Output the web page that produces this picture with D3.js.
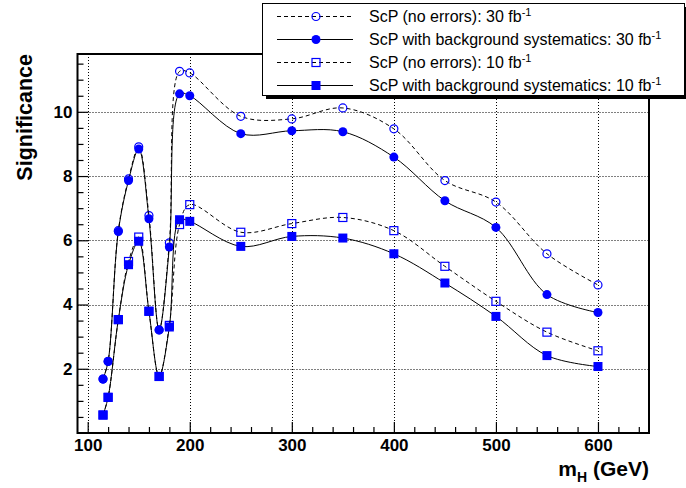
<!DOCTYPE html>
<html><head><meta charset="utf-8">
<script src="https://cdn.jsdelivr.net/npm/d3@7"></script>
<style>body{margin:0;background:#fff} svg{display:block;font-family:"Liberation Sans",Arial,Helvetica,sans-serif}</style>
</head><body><svg id="c" width="686" height="488"></svg>
<script>
// ---- data ----
const masses     = [115, 120, 130, 140, 150, 160, 170, 180, 190, 200, 250, 300, 350, 400, 450, 500, 550, 600];
const sig30NoErr = [1.68, 2.23, 6.30, 7.91, 8.91, 6.77, 3.21, 5.92, 11.26, 11.21, 9.86, 9.78, 10.12, 9.47, 7.86, 7.19, 5.58, 4.61];
const sig30Syst  = [1.68, 2.23, 6.27, 7.86, 8.84, 6.67, 3.21, 5.79, 10.56, 10.50, 9.32, 9.41, 9.38, 8.59, 7.23, 6.40, 4.31, 3.75];
const sig10NoErr = [0.56, 1.11, 3.53, 5.34, 6.10, 3.79, 1.76, 3.35, 6.49, 7.11, 6.25, 6.52, 6.71, 6.30, 5.19, 4.10, 3.14, 2.56];
const sig10Syst  = [0.56, 1.11, 3.53, 5.24, 5.97, 3.79, 1.76, 3.30, 6.64, 6.59, 5.81, 6.12, 6.07, 5.58, 4.67, 3.63, 2.41, 2.07];
const xTicks = [100, 200, 300, 400, 500, 600];
const yTicks = [2, 4, 6, 8, 10];
const legendLabels = ["ScP (no errors): 30 fb", "ScP with background systematics: 30 fb", "ScP (no errors): 10 fb", "ScP with background systematics: 10 fb"];
const legendSup = "-1";
const xTitle = "m", xTitleSub = "H", xTitleRest = " (GeV)";
const yTitle = "Significance";

// ---- layout ----
const L = 77.5, R = 649, T = 54, B = 433;
const svg = d3.select("#c");
const x = d3.scaleLinear().domain([90, 650]).range([L, R]);
const y = d3.scaleLinear().domain([0, 11.8]).range([B, T]);
const blue = "#0000ff";

svg.append("defs").append("clipPath").attr("id", "fr")
  .append("rect").attr("x", L).attr("y", T).attr("width", R - L).attr("height", B - T);

// grid
const grid = svg.append("g").attr("stroke", "#000").attr("stroke-width", 1).attr("stroke-dasharray", "1,2");
grid.selectAll("line.gx").data(xTicks).join("line")
  .attr("x1", d => Math.round(x(d)) + 0.5).attr("x2", d => Math.round(x(d)) + 0.5).attr("y1", T).attr("y2", B);
grid.selectAll("line.gy").data(yTicks).join("line").attr("class","gy")
  .attr("y1", d => Math.round(y(d)) + 0.5).attr("y2", d => Math.round(y(d)) + 0.5).attr("x1", L).attr("x2", R);

// axes
const xMinor = d3.range(100, 650, 20).filter(v => !xTicks.includes(v));
const yMinor = d3.range(0.5, 11.8, 0.5).filter(v => !yTicks.includes(v));
svg.append("g").attr("transform", `translate(0,${B})`)
  .call(d3.axisBottom(x).tickValues(xTicks).tickSize(-11).tickPadding(6).tickFormat(d3.format("d")));
svg.append("g").attr("transform", `translate(0,${B})`)
  .call(d3.axisBottom(x).tickValues(xMinor).tickSize(-6).tickFormat(""));
svg.append("g").attr("transform", `translate(${L},0)`)
  .call(d3.axisLeft(y).tickValues(yTicks).tickSize(-11).tickPadding(5).tickFormat(d3.format("d")));
svg.append("g").attr("transform", `translate(${L},0)`)
  .call(d3.axisLeft(y).tickValues(yMinor).tickSize(-6).tickFormat(""));
svg.selectAll(".domain").remove();
svg.selectAll(".tick line").attr("stroke", "#000").attr("stroke-width", 1.2);
svg.selectAll(".tick text").attr("font-family", "Liberation Sans, Arial, sans-serif")
  .attr("font-size", 17).attr("font-weight", "bold").attr("fill", "#000");

// frame
svg.append("rect").attr("x", L).attr("y", T).attr("width", R - L).attr("height", B - T)
  .attr("fill", "none").attr("stroke", "#000").attr("stroke-width", 2);

// series
const series = [
  {vals: sig30NoErr, dash: "4,3", shape: "circle", filled: false},
  {vals: sig30Syst,  dash: null,  shape: "circle", filled: true},
  {vals: sig10NoErr, dash: "4,3", shape: "square", filled: false},
  {vals: sig10Syst,  dash: null,  shape: "square", filled: true},
];
const line = d3.line().x(d => x(d[0])).y(d => y(d[1])).curve(d3.curveCatmullRom.alpha(0.5));
const plot = svg.append("g").attr("clip-path", "url(#fr)");

function drawMarker(g, shape, filled, cx, cy) {
  if (shape === "circle") {
    g.append("circle").attr("cx", cx).attr("cy", cy).attr("r", filled ? 4.5 : 4)
      .attr("fill", filled ? blue : "none").attr("stroke", blue).attr("stroke-width", filled ? 0 : 1.2);
  } else {
    const s = filled ? 9 : 8;
    g.append("rect").attr("x", cx - s / 2).attr("y", cy - s / 2).attr("width", s).attr("height", s)
      .attr("fill", filled ? blue : "none").attr("stroke", blue).attr("stroke-width", filled ? 0 : 1.2);
  }
}

series.forEach(s => {
  const pts = masses.map((m, i) => [m, s.vals[i]]);
  plot.append("path").attr("d", line(pts)).attr("fill", "none").attr("stroke", "#000")
    .attr("stroke-width", 1).attr("stroke-dasharray", s.dash);
  const mg = plot.append("g");
  pts.forEach(p => drawMarker(mg, s.shape, s.filled, x(p[0]), y(p[1])));
});

// axis titles
svg.append("text").attr("transform", `translate(32,${T}) rotate(-90)`).attr("text-anchor", "end")
  .attr("font-size", 21.5).attr("font-weight", "bold").text(yTitle);
const xt = svg.append("text").attr("x", R).attr("y", 476).attr("text-anchor", "end")
  .attr("font-size", 21).attr("font-weight", "bold");
xt.append("tspan").text(xTitle);
xt.append("tspan").attr("font-size", 14).attr("dy", 6).text(xTitleSub);
xt.append("tspan").attr("dy", -6).text(xTitleRest);

// legend
const lg = svg.append("g");
const LX = 262, LY = 3, LW = 422, LH = 92;
lg.append("rect").attr("x", LX + 4).attr("y", LY + 4).attr("width", LW).attr("height", LH).attr("fill", "#000");
lg.append("rect").attr("x", LX + 0.5).attr("y", LY + 0.5).attr("width", LW).attr("height", LH)
  .attr("fill", "#fff").attr("stroke", "#000").attr("stroke-width", 1);
series.forEach((s, i) => {
  const cy = 16.5 + i * 23;
  lg.append("line").attr("x1", 277).attr("x2", 353).attr("y1", cy).attr("y2", cy)
    .attr("stroke", "#000").attr("stroke-width", 1).attr("stroke-dasharray", s.dash);
  drawMarker(lg, s.shape, s.filled, 316, cy);
  const t = lg.append("text").attr("x", 369).attr("y", cy + 5.5).attr("font-size", 16);
  t.append("tspan").text(legendLabels[i]);
  t.append("tspan").attr("font-size", 11).attr("dy", -6).text(legendSup);
});
</script></body></html>
